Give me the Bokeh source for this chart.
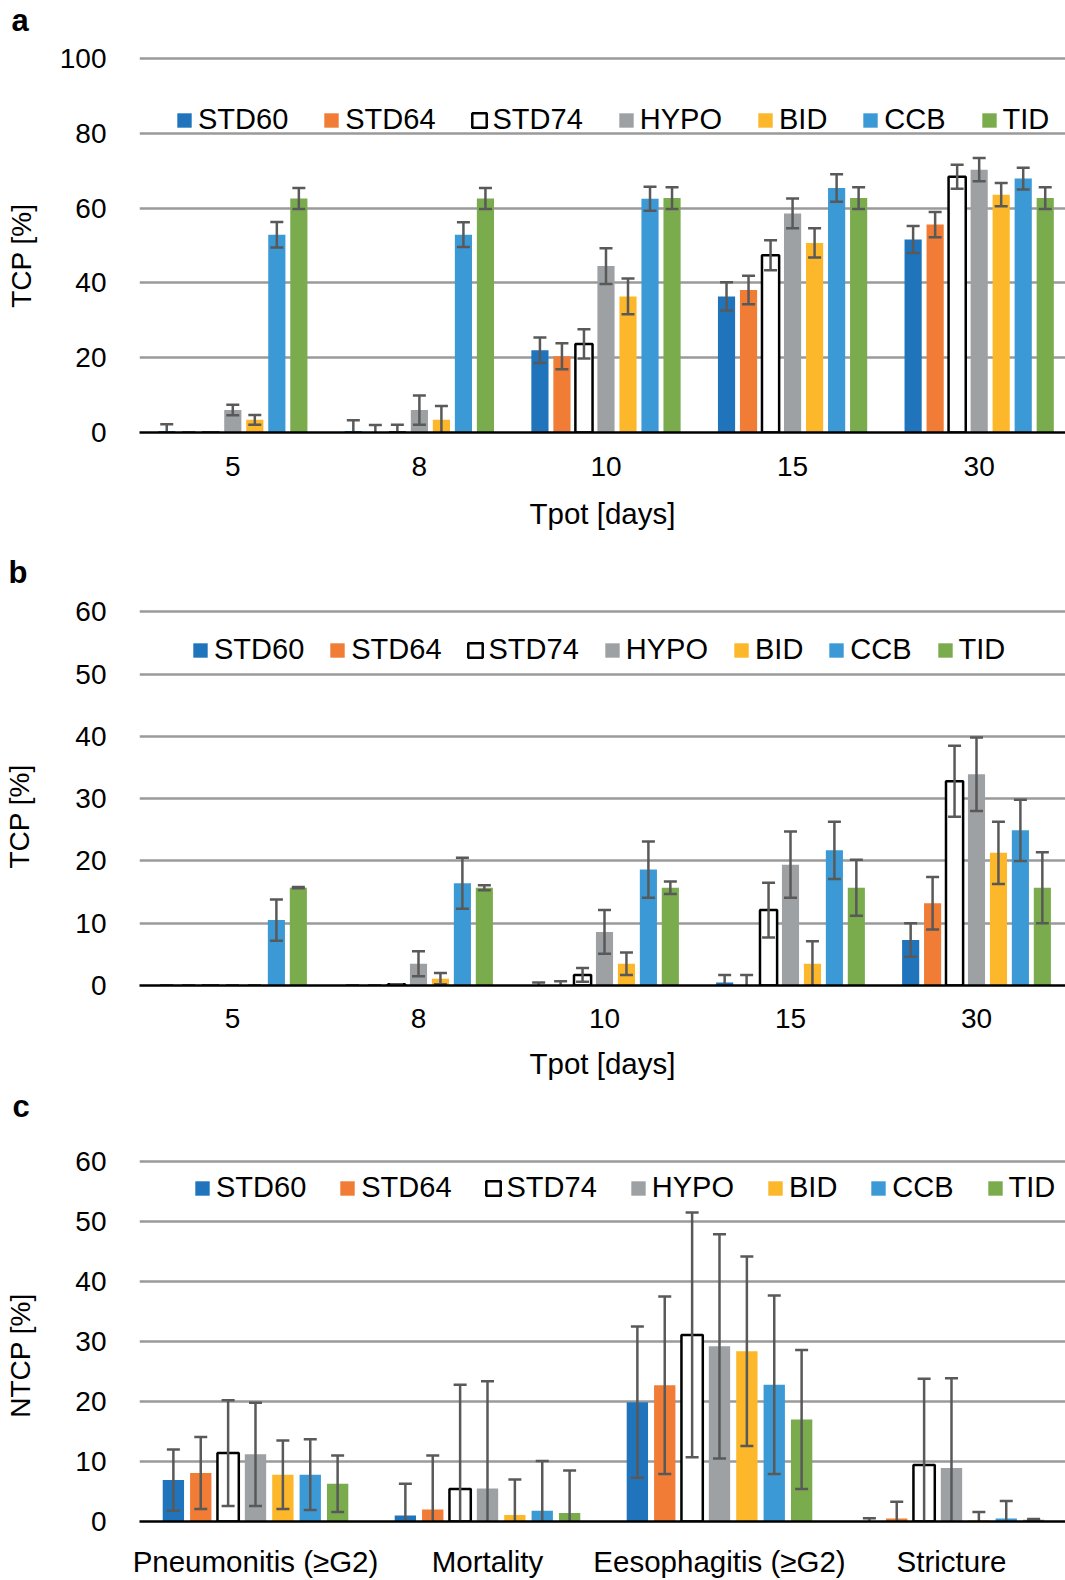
from bokeh.plotting import figure
from bokeh.layouts import column
from bokeh.models import Range1d, FixedTicker, Legend, LegendItem, Label
from bokeh.embed import file_html
from bokeh.resources import INLINE

FONT = "Liberation Sans"
NB = "\u00a0"

series_names = ["STD60", "STD64", "STD74", "HYPO", "BID", "CCB", "TID"]
series_fill = ["#1F74BC", "#F07C35", "#FFFFFF", "#9EA1A4", "#FDB72A", "#3B9AD5", "#7AAC4E"]

# ---------- panel a: TCP vs Tpot ----------
tpot_labels = ["5", "8", "10", "15", "30"]
a_std60 = [0.4, 0.4, 22.0, 36.4, 51.6]
a_std60_err = [1.8, 2.9, 3.4, 3.8, 3.6]
a_std64 = [0.0, 0.0, 20.4, 38.1, 55.6]
a_std64_err = [0.0, 2.0, 3.5, 3.8, 3.4]
a_std74 = [0.0, 0.0, 23.7, 47.4, 68.4]
a_std74_err = [0.0, 2.1, 3.9, 4.0, 3.2]
a_hypo = [6.0, 6.0, 44.5, 58.6, 70.3]
a_hypo_err = [1.4, 3.9, 4.8, 4.0, 3.1]
a_bid = [3.4, 3.4, 36.4, 50.7, 63.6]
a_bid_err = [1.3, 3.7, 4.8, 3.9, 3.1]
a_ccb = [52.9, 52.9, 62.5, 65.4, 67.9]
a_ccb_err = [3.4, 3.3, 3.2, 3.7, 2.9]
a_tid = [62.6, 62.6, 62.7, 62.7, 62.7]
a_tid_err = [2.8, 2.8, 2.9, 2.9, 2.9]

# ---------- panel b: TCP vs Tpot ----------
b_std60 = [0.0, 0.0, 0.0, 0.5, 7.3]
b_std60_err = [0.0, 0.0, 0.5, 1.2, 2.7]
b_std64 = [0.0, 0.0, 0.1, 0.0, 13.2]
b_std64_err = [0.0, 0.0, 0.6, 1.7, 4.2]
b_std74 = [0.0, 0.2, 1.7, 12.1, 32.8]
b_std74_err = [0.0, 0.0, 1.1, 4.4, 5.7]
b_hypo = [0.0, 3.5, 8.6, 19.4, 33.9]
b_hypo_err = [0.0, 2.0, 3.5, 5.3, 5.9]
b_bid = [0.0, 1.1, 3.5, 3.5, 21.3]
b_bid_err = [0.0, 0.9, 1.8, 3.6, 5.0]
b_ccb = [10.5, 16.4, 18.6, 21.7, 24.9]
b_ccb_err = [3.3, 4.1, 4.5, 4.6, 4.9]
b_tid = [15.7, 15.7, 15.7, 15.7, 15.7]
b_tid_err = [0.1, 0.4, 1.0, 4.5, 5.7]

# ---------- panel c: NTCP per endpoint ----------
endpoint_labels = ["Pneumonitis (≥G2)", "Mortality", "Eesophagitis (≥G2)", "Stricture"]
c_std60 = [6.9, 1.0, 19.9, 0.05]
c_std60_err = [5.1, 5.3, 12.6, 0.5]
c_std64 = [8.1, 2.0, 22.7, 0.5]
c_std64_err = [6.0, 9.0, 14.8, 2.8]
c_std74 = [11.4, 5.4, 31.1, 9.4]
c_std74_err = [8.8, 17.4, 20.4, 14.4]
c_hypo = [11.2, 5.5, 29.2, 8.9]
c_hypo_err = [8.6, 17.9, 18.7, 15.0]
c_bid = [7.8, 1.1, 28.4, 0.2]
c_bid_err = [5.7, 5.9, 15.8, 1.4]
c_ccb = [7.8, 1.8, 22.8, 0.5]
c_ccb_err = [5.9, 8.3, 14.9, 2.9]
c_tid = [6.3, 1.4, 17.0, 0.3]
c_tid_err = [4.7, 7.1, 11.6, 0.1]

STEP = 0.118   # offset between series within a group (category units)
BAR_W = 0.092


def make_panel(cats, vals, errs, *, height, top, bottom, left, x_end, y_end, y_ticks,
               ylabel, xlabel, ylabel_standoff, xlabel_standoff, tick_standoff_x,
               legend_x, legend_y, legend_spacing, tag, tag_xy):
    p = figure(width=1065, height=height, output_backend="svg", toolbar_location=None,
               x_range=Range1d(-0.5, x_end), y_range=Range1d(0, y_end),
               min_border_left=left, min_border_right=0,
               min_border_top=top, min_border_bottom=bottom)
    p.outline_line_color = None
    p.background_fill_color = "white"
    p.border_fill_color = "white"

    items = []
    n = len(cats)
    for j, name in enumerate(series_names):
        xs = [i + (j - 3) * STEP for i in range(n)]
        v = vals[j]
        e = errs[j]
        if name == "STD74":
            r = p.vbar(x=xs, top=v, bottom=0, width=BAR_W, fill_color="white",
                       line_color="black", line_width=2.5)
        else:
            r = p.vbar(x=xs, top=v, bottom=0, width=BAR_W, fill_color=series_fill[j],
                       line_color=None)
        items.append(LegendItem(label=name, renderers=[r]))
        hi = [a + b for a, b in zip(v, e)]
        lo = [a - b for a, b in zip(v, e)]
        p.segment(x0=xs, y0=lo, x1=xs, y1=hi, line_color="#595959", line_width=2.5)
        p.dash(x=xs, y=hi, size=13, line_color="#595959", line_width=2.5)
        p.dash(x=xs, y=lo, size=13, line_color="#595959", line_width=2.5)

    # axes
    p.xaxis.ticker = FixedTicker(ticks=list(range(n)))
    p.xaxis.major_label_overrides = {i: c for i, c in enumerate(cats)}
    p.xaxis.major_tick_line_color = None
    p.xaxis.minor_tick_line_color = None
    p.xaxis.axis_line_color = "black"
    p.xaxis.axis_line_width = 2.5
    p.xaxis.major_label_standoff = tick_standoff_x
    p.xaxis.major_label_text_font = FONT
    p.xaxis.major_label_text_font_size = "28px" if cats is tpot_labels else "29.5px"
    p.xaxis.major_label_text_color = "black"
    if xlabel:
        p.xaxis.axis_label = xlabel
        p.xaxis.axis_label_text_font = FONT
        p.xaxis.axis_label_text_font_size = "29.5px"
        p.xaxis.axis_label_text_font_style = "normal"
        p.xaxis.axis_label_text_color = "black"
        p.xaxis.axis_label_standoff = xlabel_standoff

    p.yaxis.ticker = FixedTicker(ticks=y_ticks)
    p.yaxis.axis_line_color = None
    p.yaxis.major_tick_line_color = None
    p.yaxis.minor_tick_line_color = None
    p.yaxis.major_label_standoff = 27
    p.yaxis.major_label_text_font = FONT
    p.yaxis.major_label_text_font_size = "28px"
    p.yaxis.major_label_text_color = "black"
    p.yaxis.axis_label = ylabel
    p.yaxis.axis_label_text_font = FONT
    p.yaxis.axis_label_text_font_size = "28px"
    p.yaxis.axis_label_text_font_style = "normal"
    p.yaxis.axis_label_text_color = "black"
    p.yaxis.axis_label_standoff = ylabel_standoff

    p.xgrid.grid_line_color = None
    p.ygrid.grid_line_color = "#9A9A9A"
    p.ygrid.grid_line_width = 2.5

    legend = Legend(items=items, orientation="horizontal", location=(legend_x, legend_y),
                    spacing=legend_spacing, glyph_width=18, glyph_height=18,
                    label_standoff=5, padding=0, margin=0,
                    border_line_color=None, background_fill_alpha=0,
                    label_text_font=FONT, label_text_font_size="29px",
                    label_text_color="black")
    p.add_layout(legend)

    # panel tag (a / b / c) placed in the space above the plot area
    p.add_layout(Label(x=tag_xy[0], y=tag_xy[1], x_units="screen", y_units="screen",
                       text=tag, text_font=FONT, text_font_style="bold",
                       text_font_size="31px", text_align="left",
                       text_baseline="middle", text_color="black"), "above")
    return p


pa = make_panel(
    tpot_labels,
    [a_std60, a_std64, a_std74, a_hypo, a_bid, a_ccb, a_tid],
    [a_std60_err, a_std64_err, a_std74_err, a_hypo_err, a_bid_err, a_ccb_err, a_tid_err],
    height=545, top=55, bottom=113, left=135, x_end=-0.5 + 930 / 187.4, y_end=377 / 3.739,
    y_ticks=[0, 20, 40, 60, 80, 100], ylabel="TCP [%]" + NB * 3, xlabel="Tpot [days]",
    ylabel_standoff=20, xlabel_standoff=18, tick_standoff_x=18,
    legend_x=36, legend_y=296, legend_spacing=34, tag="a", tag_xy=(-128, 35))

pb = make_panel(
    tpot_labels,
    [b_std60, b_std64, b_std74, b_hypo, b_bid, b_ccb, b_tid],
    [b_std60_err, b_std64_err, b_std74_err, b_hypo_err, b_bid_err, b_ccb_err, b_tid_err],
    height=545, top=63, bottom=105, left=139, x_end=-0.5 + 926 / 186.0, y_end=377 / 6.23,
    y_ticks=[0, 10, 20, 30, 40, 50, 60], ylabel="TCP [%]" + NB * 5, xlabel="Tpot [days]",
    ylabel_standoff=37, xlabel_standoff=16, tick_standoff_x=17,
    legend_x=52, legend_y=319, legend_spacing=24, tag="b", tag_xy=(-131, 36))

pc = make_panel(
    endpoint_labels,
    [c_std60, c_std64, c_std74, c_hypo, c_bid, c_ccb, c_tid],
    [c_std60_err, c_std64_err, c_std74_err, c_hypo_err, c_bid_err, c_ccb_err, c_tid_err],
    height=490, top=68, bottom=53, left=135, x_end=-0.5 + 930 / 233.0, y_end=369 / 6.097,
    y_ticks=[0, 10, 20, 30, 40, 50, 60], ylabel="NTCP [%]" + NB * 4, xlabel=None,
    ylabel_standoff=36, xlabel_standoff=10, tick_standoff_x=17,
    legend_x=54, legend_y=317, legend_spacing=32, tag="c", tag_xy=(-127, 52))

layout = column(pa, pb, pc, spacing=0)
open("out.html", "w").write(file_html(layout, INLINE))
